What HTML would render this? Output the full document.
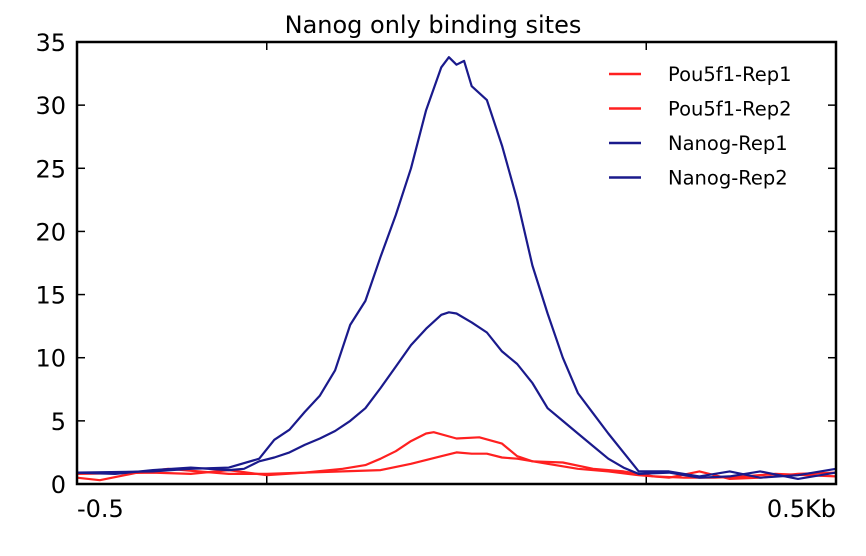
<!DOCTYPE html>
<html><head><meta charset="utf-8"><style>
body{margin:0;background:#fff;width:866px;height:551px;overflow:hidden}
text{font-family:"DejaVu Sans","Liberation Sans",sans-serif}
</style></head><body>
<svg id="chart" width="866" height="551" xmlns="http://www.w3.org/2000/svg">
<text x="433" y="33" font-size="24" text-anchor="middle">Nanog only binding sites</text>
<g id="ticks"></g>
<g id="series"></g>
<rect x="77" y="42" width="759" height="442" fill="none" stroke="#000" stroke-width="2.5"/>
<g id="legend"></g>
</svg>
<script>
const yTicks=[0,5,10,15,20,25,30,35];
const xTickBins=[0,25,75,100];
const xTickLabels=["-0.5","","","0.5Kb"];
const seriesNames=["Pou5f1-Rep1","Pou5f1-Rep2","Nanog-Rep1","Nanog-Rep2"];
const seriesColors=["#ff2020","#ff2020","#1a1a8c","#1a1a8c"];
const p1Bins=[0,3,8,12,16,20,25,30,35,38,40,42,44,46,47,50,53,56,58,60,64,68,72,76,80,84,88,92,100];
const p1Vals=[0.5,0.3,0.9,1.2,1.0,0.8,0.8,0.9,1.2,1.5,2.0,2.6,3.4,4.0,4.1,3.6,3.7,3.2,2.2,1.8,1.7,1.2,1.0,0.6,0.5,0.5,0.6,0.8,0.6];
const p2Bins=[0,10,15,20,25,30,35,40,44,48,50,52,54,56,58,62,66,70,74,78,82,86,90,95,100];
const p2Vals=[0.8,0.9,0.8,1.1,0.7,0.9,1.0,1.1,1.6,2.2,2.5,2.4,2.4,2.1,2.0,1.6,1.2,1.0,0.7,0.5,1.0,0.4,0.5,0.8,0.9];
const n1Bins=[0,10,15,20,24,26,28,30,32,34,36,38,40,42,44,46,48,49,50,51,52,54,56,58,60,62,64,66,68,70,72,74,78,82,86,90,95,100];
const n1Vals=[0.9,1.0,1.2,1.3,2.0,3.5,4.3,5.7,7.0,9.0,12.6,14.5,18,21.3,25,29.6,33,33.8,33.2,33.5,31.5,30.4,26.8,22.5,17.3,13.5,10,7.2,5.6,4,2.5,1.0,1.0,0.6,1.0,0.5,0.7,1.2];
const n2Bins=[0,5,10,15,20,22,24,26,28,30,32,34,36,38,40,42,44,46,48,49,50,52,54,56,58,60,62,64,66,68,70,72,74,78,82,86,90,95,100];
const n2Vals=[0.9,0.8,1.1,1.3,1.1,1.2,1.8,2.1,2.5,3.1,3.6,4.2,5,6,7.6,9.3,11,12.3,13.4,13.6,13.5,12.8,12,10.5,9.5,8,6,5,4,3,2,1.3,0.8,0.9,0.5,0.6,1.0,0.4,0.9];
const allBins=[p1Bins,p2Bins,n1Bins,n2Bins];
const allVals=[p1Vals,p2Vals,n1Vals,n2Vals];
const L=77,R=836,T=42,B=484;
const xs=b=>L+(R-L)*b/100;
const ys=v=>B-(B-T)*v/35;
const NS="http://www.w3.org/2000/svg";
function mk(t,a,p){const e=document.createElementNS(NS,t);for(const k in a)e.setAttribute(k,a[k]);p.appendChild(e);return e;}
const tg=document.getElementById('ticks');
yTicks.forEach(v=>{
  const a=mk('line',{x1:L,x2:L+8,y1:ys(v),y2:ys(v),stroke:'#000','stroke-width':1.5},tg);
  
  
  const b=mk('line',{x1:R-8,x2:R,y1:ys(v),y2:ys(v),stroke:'#000','stroke-width':1.5},tg);
  
  
  const t=mk('text',{x:L-11,y:ys(v)+9,'font-size':24,'text-anchor':'end'},tg);
  
  
  t.textContent=v;
});
xTickBins.forEach((b,i)=>{
  const a=mk('line',{x1:xs(b),x2:xs(b),y1:B,y2:B-8,stroke:'#000','stroke-width':1.5},tg);
  
  
  const c=mk('line',{x1:xs(b),x2:xs(b),y1:T,y2:T+8,stroke:'#000','stroke-width':1.5},tg);
  
  
  if(xTickLabels[i]){
    const t=mk('text',{x:xs(b),y:B+33,'font-size':24,'text-anchor':i==0?'start':'end'},tg);
    
    
    t.textContent=xTickLabels[i];
  }
});
const sg=document.getElementById('series');
allVals.forEach((vals,s)=>{
  const d=vals.map((v,i)=>(i?'L':'M')+xs(allBins[s][i]).toFixed(1)+' '+ys(v).toFixed(1)).join(' ');
  const p=mk('path',{d:d,fill:'none',stroke:seriesColors[s],'stroke-width':2.2,'stroke-linejoin':'round'},sg);
  
  
});
const lg=document.getElementById('legend');
seriesNames.forEach((n,i)=>{
  const y=74+i*34.5;
  const l=mk('line',{x1:609,x2:641,y1:y,y2:y,stroke:seriesColors[i],'stroke-width':2.5},lg);
  
  
  const t=mk('text',{x:668,y:y+7,'font-size':19.5},lg);
  
  
  t.textContent=n;
});
</script>
</body></html>
